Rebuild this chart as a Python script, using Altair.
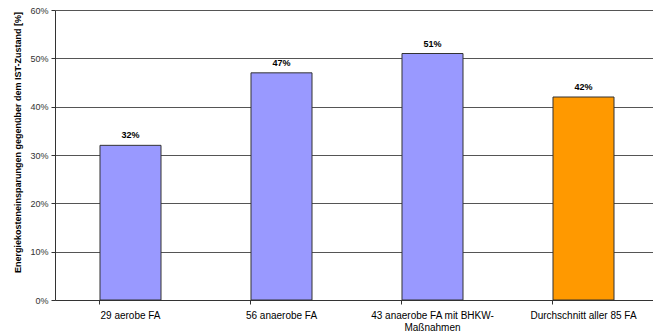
import altair as alt
import pandas as pd

categories = ["29 aerobe FA", "56 anaerobe FA", "43 anaerobe FA mit BHKW-Maßnahmen", "Durchschnitt aller 85 FA"]
values = [0.32, 0.47, 0.51, 0.42]
colors = ["#9999FF", "#9999FF", "#9999FF", "#FF9900"]
labels = ["32%", "47%", "51%", "42%"]
y_ticks = [0, 0.1, 0.2, 0.3, 0.4, 0.5, 0.6]

df = pd.DataFrame({"cat": categories, "val": values, "col": colors, "lab": labels})

FONT = "Liberation Sans"

x = alt.X(
    "cat:N",
    sort=categories,
    scale=alt.Scale(range=[0, 604], paddingInner=0.596, paddingOuter=0.298),
    axis=alt.Axis(
        title=None,
        labelAngle=0,
        labelFontSize=10,
        labelFont=FONT,
        labelColor="#000000",
        labelPadding=6,
        labelLimit=300,
        labelLineHeight=12,
        labelExpr="datum.value == '43 anaerobe FA mit BHKW-Maßnahmen' ? ['43 anaerobe FA mit BHKW-', 'Maßnahmen'] : datum.value",
        bandPosition=0,
        ticks=True,
        tickSize=4,
        tickColor="#333333",
        domainColor="#333333",
        domainWidth=1,
        grid=False,
    ),
)

y = alt.Y(
    "val:Q",
    scale=alt.Scale(domain=[0, 0.6], nice=False),
    axis=alt.Axis(
        title="Energiekosteneinsparungen gegenüber dem IST-Zustand [%]",
        titleFontSize=9,
        titleFont=FONT,
        titleFontWeight="bold",
        titleColor="#000000",
        titleAngle=270,
        titleAlign="center",
        titleBaseline="middle",
        titleX=-38,
        titleY=132,
        values=y_ticks,
        format=".0%",
        labelFontSize=9,
        labelFont=FONT,
        labelColor="#333333",
        labelPadding=3,
        tickSize=4,
        tickColor="#333333",
        domainColor="#333333",
        grid=True,
        gridColor="#555555",
        gridWidth=1,
    ),
)

bars = alt.Chart(df).mark_bar(stroke="#333333", strokeWidth=1).encode(
    x=x,
    y=y,
    color=alt.Color("col:N", scale=None),
)

text = alt.Chart(df).mark_text(
    baseline="bottom", dy=-5, fontSize=9, fontWeight="bold", font=FONT, color="#000000"
).encode(
    x=alt.X("cat:N", sort=categories),
    y=alt.Y("val:Q"),
    text="lab:N",
)

chart = (
    alt.layer(bars, text)
    .properties(
        width=598,
        height=290,
        autosize=alt.AutoSizeParams(type="none"),
        padding={"left": 55, "top": 10, "right": 0, "bottom": 36},
        background="#FFFFFF",
    )
    .configure_view(strokeWidth=0, strokeOpacity=0)
)

chart.save("out.html", embed_options={"renderer": "svg", "actions": False})
